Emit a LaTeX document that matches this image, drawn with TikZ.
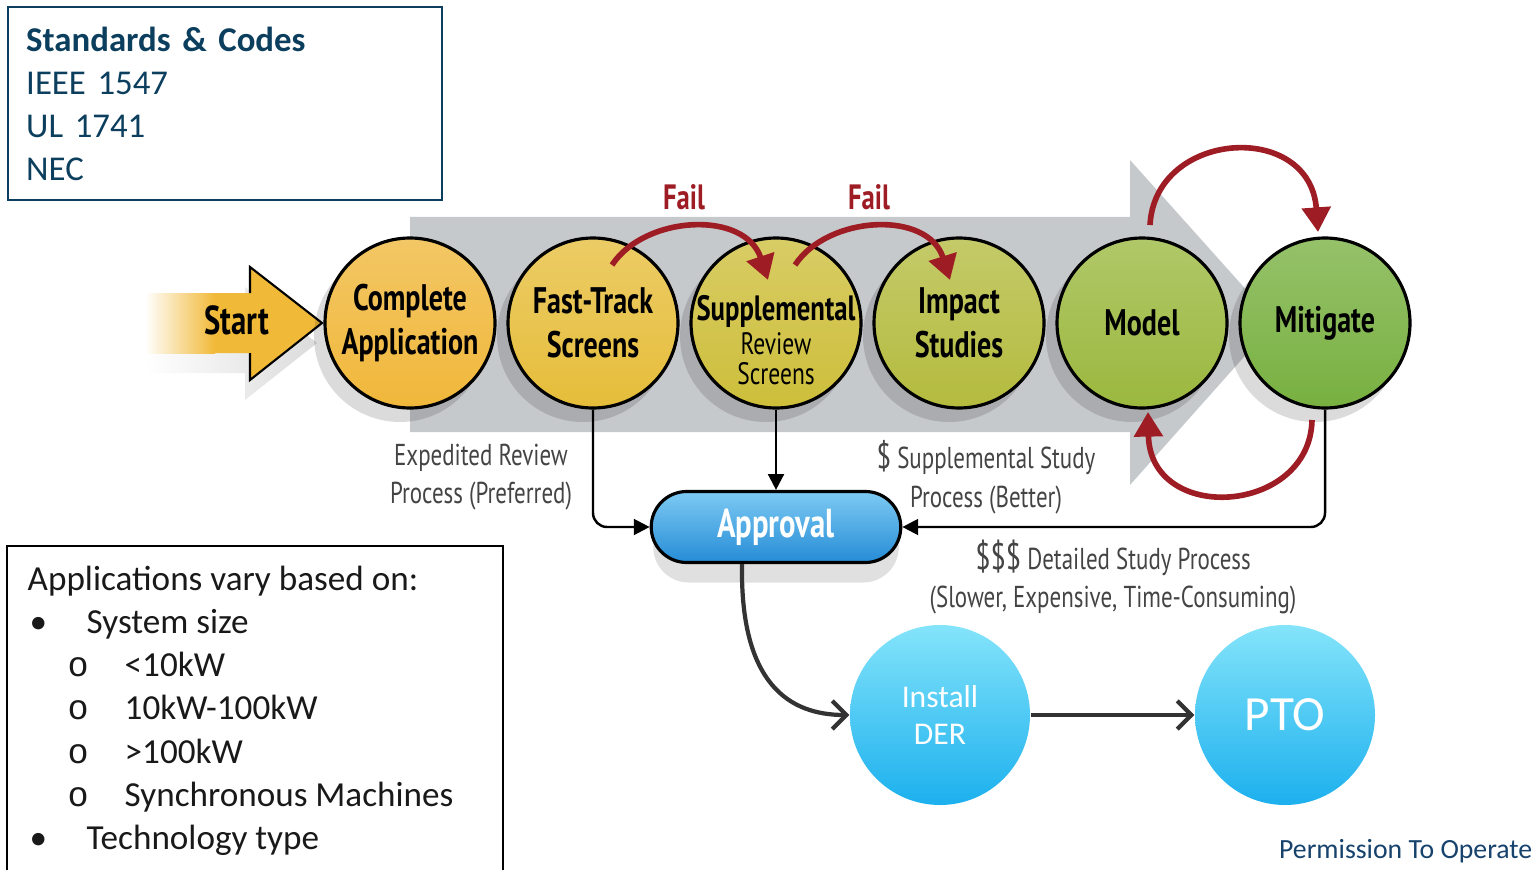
\documentclass[tikz,border=0pt]{standalone}
\usepackage{fontspec}
\setmainfont{Carlito}
\newfontfamily\myriad[FakeStretch=0.76]{PT Sans}
\newfontfamily\monof{Liberation Mono}
\usetikzlibrary{arrows.meta,calc,shapes.misc,positioning}

\definecolor{stdblue}{RGB}{12,62,94}
\definecolor{ptoblue}{RGB}{22,66,108}
\definecolor{arrowgray}{RGB}{198,201,204}
\definecolor{failred}{RGB}{158,28,36}
\definecolor{startyel}{RGB}{241,185,56}
\definecolor{capp}{RGB}{240,183,58}
\definecolor{cfast}{RGB}{230,189,58}
\definecolor{csup}{RGB}{205,190,58}
\definecolor{cimp}{RGB}{180,187,62}
\definecolor{cmod}{RGB}{155,184,62}
\definecolor{cmit}{RGB}{120,176,64}
\definecolor{apptop}{RGB}{125,202,243}
\definecolor{appbot}{RGB}{38,140,214}
\definecolor{skytop}{RGB}{132,228,250}
\definecolor{skybot}{RGB}{28,176,238}
\definecolor{labgray}{RGB}{68,68,68}

\begin{document}
\begin{tikzpicture}[bub/.style={circle,draw=black,line width=0.9pt,minimum size=1.7cm,inner sep=0pt,top color=#1!78!white,bottom color=#1,align=center,font=\myriad\bfseries\fontsize{10.5}{12.4}\selectfont},
  dropshade/.style={fill=black,opacity=0.14},
  failtxt/.style={text=failred,font=\myriad\bfseries\fontsize{10}{12}\selectfont},
  redarc/.style={draw=failred,line width=1.6pt,-{Triangle[length=7pt,width=8pt]}},
  link/.style={draw=black,line width=0.7pt,-{Triangle[length=4.5pt,width=4.5pt]}},
  fatarrow/.style={draw=black!80,line width=1.2pt,-{Straight Barb[length=4pt,width=8pt,line width=1.2pt]}},
  labtxt/.style={text=labgray,align=center,font=\myriad\fontsize{8.6}{11}\selectfont},
  skyball/.style={circle,minimum size=1.8cm,inner sep=0pt,top color=skytop,bottom color=skybot,text=white,align=center}]
\useasboundingbox (0,0) rectangle (15.39,-8.69);

% big gray process arrow
\fill[arrowgray] (4.10,-2.17) -- (11.30,-2.17) -- (11.30,-1.60) -- (12.75,-3.22) -- (11.30,-4.85) -- (11.30,-4.32) -- (4.10,-4.32) -- cycle;

% start arrow
\shade[left color=white,right color=black!14] (1.45,-3.13) -- (2.45,-3.13) -- (2.45,-2.87) -- (3.17,-3.43) -- (2.45,-4.00) -- (2.45,-3.73) -- (1.45,-3.73) -- cycle;
\fill[startyel] (1.45,-2.93) -- (2.50,-2.93) -- (2.50,-2.67) -- (3.22,-3.23) -- (2.50,-3.80) -- (2.50,-3.53) -- (1.45,-3.53) -- cycle;
\shade[left color=white,right color=startyel] (1.45,-2.93) rectangle (2.15,-3.53);
\draw[line width=0.6pt] (2.50,-2.93) -- (2.50,-2.67) -- (3.22,-3.23) -- (2.50,-3.80) -- (2.50,-3.53);
\node[font=\myriad\bfseries\fontsize{11.5}{13}\selectfont] (start) at (2.37,-3.20) {Start};

% shadows under the steps
\fill[dropshade] (4.00,-3.36) circle (0.86);
\fill[dropshade] (5.83,-3.36) circle (0.86);
\fill[dropshade] (7.66,-3.36) circle (0.86);
\fill[dropshade] (9.49,-3.36) circle (0.86);
\fill[dropshade] (11.32,-3.36) circle (0.86);
\fill[dropshade] (13.15,-3.36) circle (0.86);

% steps
\node[bub=capp] (app) at (4.10,-3.23) {Complete\\Application};
\node[bub=cfast] (fast) at (5.93,-3.23) {Fast-Track\\Screens};
\node[bub=csup] (sup) at (7.76,-3.23) {};
\node[align=center,font=\myriad\fontsize{8.8}{8.6}\selectfont] (suptxt) at ([yshift=-0.17cm]sup.center) {{\bfseries\fontsize{10}{10}\selectfont Supplemental}\\[1pt]Review\\Screens};
\node[bub=cimp] (imp) at (9.59,-3.23) {Impact\\Studies};
\node[bub=cmod] (mod) at (11.42,-3.23) {Model};
\node[bub=cmit] (mit) at (13.25,-3.23) {Mitigate};

% fail loops
\node[failtxt] (fail1) at (6.84,-1.97) {Fail};
\node[failtxt] (fail2) at (8.69,-1.97) {Fail};
\draw[redarc] ($(fast)+(0.19,0.58)$) .. controls ($(fast)+(0.52,1.08)$) and ($(sup)+(-0.31,1.13)$) .. ($(sup)+(-0.08,0.43)$);
\draw[redarc] ($(sup)+(0.19,0.58)$) .. controls ($(sup)+(0.52,1.08)$) and ($(imp)+(-0.31,1.13)$) .. ($(imp)+(-0.09,0.43)$);
\draw[redarc] ($(mod)+(0.08,0.98)$) .. controls ($(mod)+(0.13,1.93)$) and ($(mit)+(-0.15,2.03)$) .. ($(mit)+(-0.07,0.91)$);
\draw[redarc] ($(mit)+(-0.13,-0.97)$) .. controls ($(mit)+(-0.15,-1.92)$) and ($(mod)+(0.08,-2.02)$) .. ($(mod)+(0.06,-0.89)$);

% approval
\node[rounded rectangle,fill=black!12,minimum width=2.69cm,minimum height=0.71cm] (apprshade) at (7.76,-5.47) {};
\node[rounded rectangle,draw=black,line width=0.9pt,minimum width=2.73cm,minimum height=0.71cm,top color=apptop,bottom color=appbot,text=white,font=\myriad\bfseries\fontsize{11.5}{13}\selectfont] (appr) at (7.76,-5.27) {Approval};
\draw[link,rounded corners=4pt] (fast.south) |- (appr.west);
\draw[link] (sup.south) -- (appr.north);
\draw[link,rounded corners=4pt] (mit.south) |- (appr.east);

% process labels
\node[labtxt] (expl) at (4.81,-4.77) {Expedited Review\\Process (Preferred)};
\node[labtxt] (supl) at (9.86,-4.77) {{\fontsize{10}{11}\selectfont\$} Supplemental Study\\Process (Better)};
\node[labtxt] (detl) at (11.13,-5.77) {{\fontsize{10.5}{11}\selectfont\$\$\$} Detailed Study Process\\(Slower, Expensive, Time-Consuming)};

% install and PTO
\node[skyball,font=\fontsize{9}{10.8}\selectfont] (inst) at (9.40,-7.15) {Install\\DER};
\node[skyball,font=\fontsize{14}{16}\selectfont] (pto) at (12.85,-7.15) {PTO};
\draw[fatarrow] ($(appr.south)+(-0.34,0)$) .. controls ($(appr.south)+(-0.36,-1.2)$) and ($(inst.west)+(-0.6,0)$) .. (inst.west);
\draw[fatarrow] (inst.east) -- (pto.west);
\node[anchor=east,inner sep=0pt,text=ptoblue,font=\fontsize{7.9}{9}\selectfont] (permit) at (15.33,-8.51) {Permission To Operate};

% standards box
\node[draw=stdblue,line width=0.7pt,anchor=north west,minimum width=4.34cm,minimum height=1.93cm,text width=3.98cm,align=left,text=stdblue,font=\fontsize{9.9}{12.2}\selectfont] (std) at (0.07,-0.06) {\textbf{Standards \& Codes}\\IEEE 1547\\UL 1741\\NEC};

% applications box
\draw[line width=0.7pt] (0.07,-8.75) -- (0.07,-5.46) -- (5.03,-5.46) -- (5.03,-8.75);
\node[anchor=north west,inner sep=0pt,align=left,text=black!90,font=\fontsize{10}{12.3}\selectfont] (apps) at (0.27,-5.65) {Applications vary based on:\\
\makebox[0.59cm][l]{\hspace{0.02cm}•}System size\\
\hspace*{0.40cm}\makebox[0.57cm][l]{\monof o}<10kW\\
\hspace*{0.40cm}\makebox[0.57cm][l]{\monof o}10kW-100kW\\
\hspace*{0.40cm}\makebox[0.57cm][l]{\monof o}>100kW\\
\hspace*{0.40cm}\makebox[0.57cm][l]{\monof o}Synchronous Machines\\
\makebox[0.59cm][l]{\hspace{0.02cm}•}Technology type};
\end{tikzpicture}
\end{document}
